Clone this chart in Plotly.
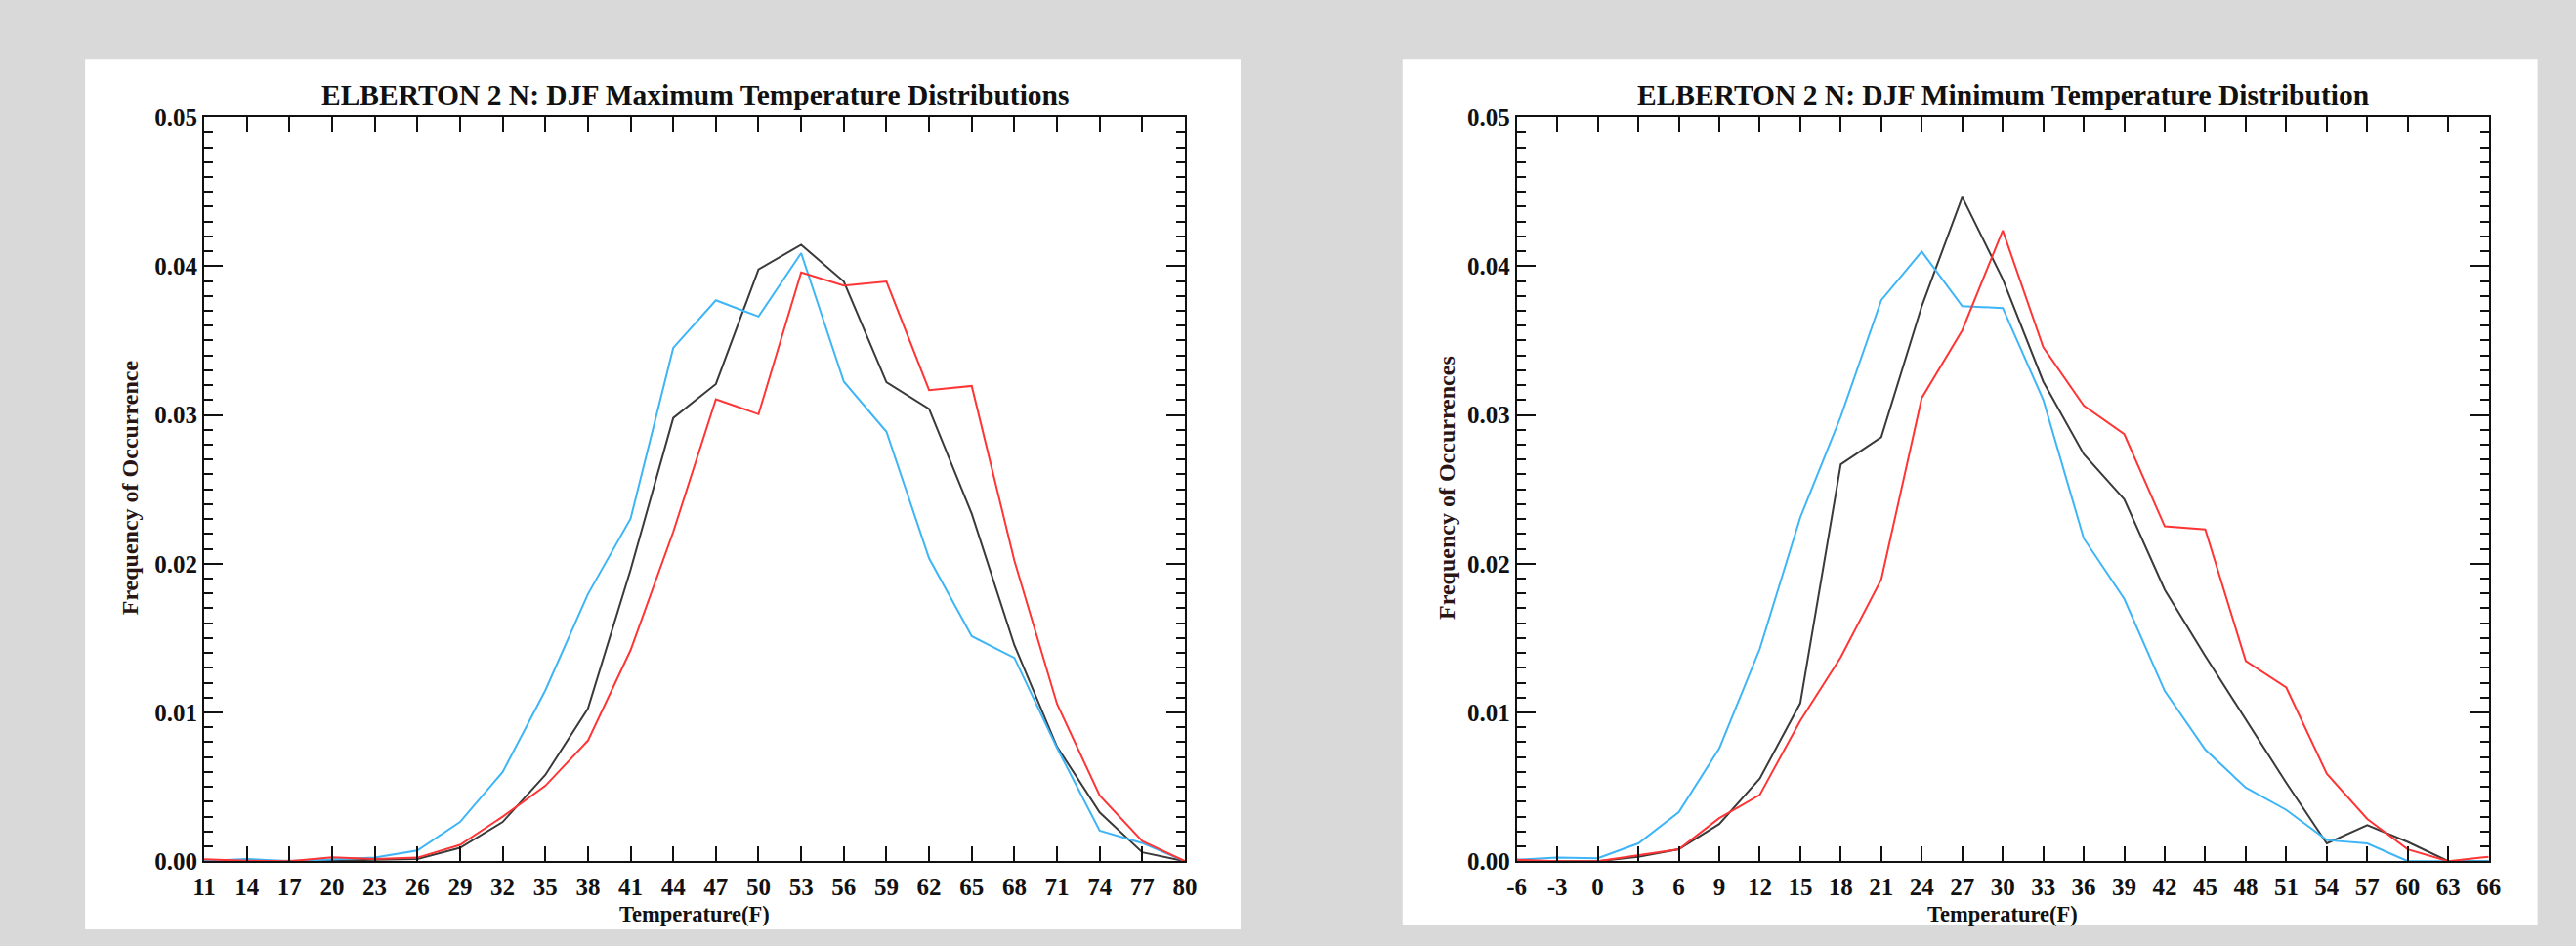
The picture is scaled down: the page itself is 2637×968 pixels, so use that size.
import plotly.graph_objects as go

W, H = 2637, 968
# measured placement of the figure inside the photographed page
SX, AX = 0.9915, 9.8
SY, AY = 0.9745, 12.6

# ---------------- data ----------------
max_temps = [11, 14, 17, 20, 23, 26, 29, 32, 35, 38, 41, 44, 47, 50, 53, 56, 59, 62, 65, 68, 71, 74, 77, 80]
max_blue = [0.00002, 0.00015, 0.0, 0.0001, 0.00024, 0.00072, 0.00264, 0.0060, 0.01148, 0.01796, 0.02303, 0.03451,
            0.03771, 0.03662, 0.04088, 0.03224, 0.02887, 0.02036, 0.01513, 0.01367, 0.00762, 0.00206, 0.00122, 0.0]
max_black = [0.0, 0.0, 0.0, 0.00003, 0.0001, 0.00015, 0.0009, 0.00264, 0.0058, 0.01026, 0.01959, 0.0298,
             0.03208, 0.03978, 0.04144, 0.03897, 0.0322, 0.03041, 0.02336, 0.01452, 0.0077, 0.00328, 0.0006, 0.0]
max_red = [0.00013, 0.00003, 0.0, 0.00026, 0.00015, 0.00024, 0.0011, 0.0030, 0.00507, 0.00811, 0.01419, 0.02214,
           0.03106, 0.03005, 0.03958, 0.03869, 0.03897, 0.03167, 0.03195, 0.0202, 0.01058, 0.00442, 0.00135, 0.0]

min_temps = [-6, -3, 0, 3, 6, 9, 12, 15, 18, 21, 24, 27, 30, 33, 36, 39, 42, 45, 48, 51, 54, 57, 60, 63, 66]
min_blue = [0.0001, 0.00024, 0.0002, 0.0012, 0.0033, 0.00758, 0.01427, 0.02311, 0.02989, 0.03771, 0.04098, 0.03731,
            0.03719, 0.03102, 0.0217, 0.01764, 0.01144, 0.0075, 0.00495, 0.00345, 0.00142, 0.0012, 0.0, 0.0, 0.0]
min_black = [0.0, 0.0, 0.0, 0.0003, 0.0008, 0.0025, 0.00556, 0.01062, 0.02668, 0.02851, 0.03731, 0.04465,
             0.03913, 0.03224, 0.02737, 0.02433, 0.01825, 0.01379, 0.00953, 0.00527, 0.0012, 0.00243, 0.0013, 0.0, 0.0]
min_red = [0.0001, 0.0, 0.0, 0.0004, 0.0008, 0.0029, 0.00446, 0.00945, 0.01371, 0.01894, 0.03114, 0.03569,
           0.0424, 0.03455, 0.03062, 0.02871, 0.02251, 0.0223, 0.01346, 0.01168, 0.00588, 0.00284, 0.0008, 0.0, 0.0003]

max_tick_labels = [str(t) for t in max_temps]
min_tick_labels = ["-6", "-3", "0", "3", "6", "9", "12", "15", "18", "21", "24", "27", "30", "33", "36",
                   "39", "42", "45", "48", "51", "54", "57", "60", "63", "66"]
y_tick_vals = [0.0, 0.01, 0.02, 0.03, 0.04, 0.05]
y_tick_labels = ["0.00", "0.01", "0.02", "0.03", "0.04", "0.05"]

titles = ["ELBERTON 2 N: DJF Maximum Temperature Distributions",
          "ELBERTON 2 N: DJF Minimum Temperature Distribution"]
ytitles = ["Frequency of Occurrence", "Frequency of Occurrences"]
xtitle = "Temperature(F)"

BLUE = "#3db5f7"
BLACK = "#3a3a3a"
RED = "#ff3535"
FONT = "Liberation Serif"

# ---------------- figure ----------------
fig = go.Figure()

for (xs, series, xa, ya) in [
    (max_temps, [max_black, max_blue, max_red], "x", "y"),
    (min_temps, [min_black, min_blue, min_red], "x2", "y2"),
]:
    for vals, col in zip(series, [BLACK, BLUE, RED]):
        fig.add_trace(go.Scatter(x=xs, y=vals, mode="lines", xaxis=xa, yaxis=ya,
                                 line=dict(color=col, width=2), showlegend=False,
                                 hoverinfo="skip"))

def px_x(p):
    return ((p - AX) / SX) / W

def px_y(p):
    return 1 - ((p - AY) / SY) / H

ydom = [px_y(883), px_y(120)]
axis_common = dict(showline=True, linecolor="#111", linewidth=2, mirror="allticks",
                   ticks="inside", tickcolor="#111", tickwidth=2, showgrid=False,
                   zeroline=False,
                   tickfont=dict(family=FONT, size=25, color="#111", weight="bold"))
ominor = dict(ticks="inside", dtick=0.001, ticklen=9, tickwidth=2, tickcolor="#111")

fig.update_layout(
    width=W, height=H, autosize=False,
    margin=dict(l=0, r=0, t=0, b=0),
    paper_bgcolor="#d9d9d9",
    plot_bgcolor="white",
    xaxis=dict(domain=[px_x(207), px_x(1212)], range=[11, 80],
               tickmode="array", tickvals=max_temps, ticktext=max_tick_labels,
               ticklen=15, ticklabelstandoff=3, anchor="y", **axis_common),
    yaxis=dict(domain=ydom, range=[0, 0.05], tickmode="array", tickvals=y_tick_vals,
               ticktext=y_tick_labels, ticklen=19, anchor="x", minor=ominor, **axis_common),
    xaxis2=dict(domain=[px_x(1552), px_x(2548)], range=[-6, 66],
                tickmode="array", tickvals=min_temps, ticktext=min_tick_labels,
                ticklen=15, ticklabelstandoff=3, anchor="y2", **axis_common),
    yaxis2=dict(domain=ydom, range=[0, 0.05], tickmode="array", tickvals=y_tick_vals,
                ticktext=y_tick_labels, ticklen=19, anchor="x2", minor=ominor, **axis_common),
)

# white panels
for x0, x1, y0, y1 in [(85, 1269, 60, 953), (1435, 2598, 60, 949)]:
    fig.add_shape(type="rect", xref="paper", yref="paper",
                  x0=px_x(x0), x1=px_x(x1), y0=px_y(y1), y1=px_y(y0),
                  fillcolor="white", line=dict(width=0), layer="below")

# titles and axis titles
for i, (cx, ytx) in enumerate([(709.5, 131), (2050, 1480)]):
    fig.add_annotation(text=titles[i], xref="paper", yref="paper", x=px_x(cx), y=px_y(97),
                       xanchor="center", yanchor="middle", showarrow=False,
                       font=dict(family=FONT, size=29.5, color="#111", weight="bold"))
    fig.add_annotation(text=xtitle, xref="paper", yref="paper", x=px_x(cx), y=px_y(937),
                       xanchor="center", yanchor="middle", showarrow=False,
                       font=dict(family=FONT, size=22.5, color="#111", weight="bold"))
    fig.add_annotation(text=ytitles[i], xref="paper", yref="paper", x=px_x(ytx), y=px_y(500),
                       xanchor="center", yanchor="middle", showarrow=False, textangle=-90,
                       font=dict(family=FONT, size=24, color="#2a1515", weight="bold"))

fig.write_html("out.html",
               post_script=("document.body.style.background='#d9d9d9';"
                            "document.documentElement.style.background='#d9d9d9';"))
